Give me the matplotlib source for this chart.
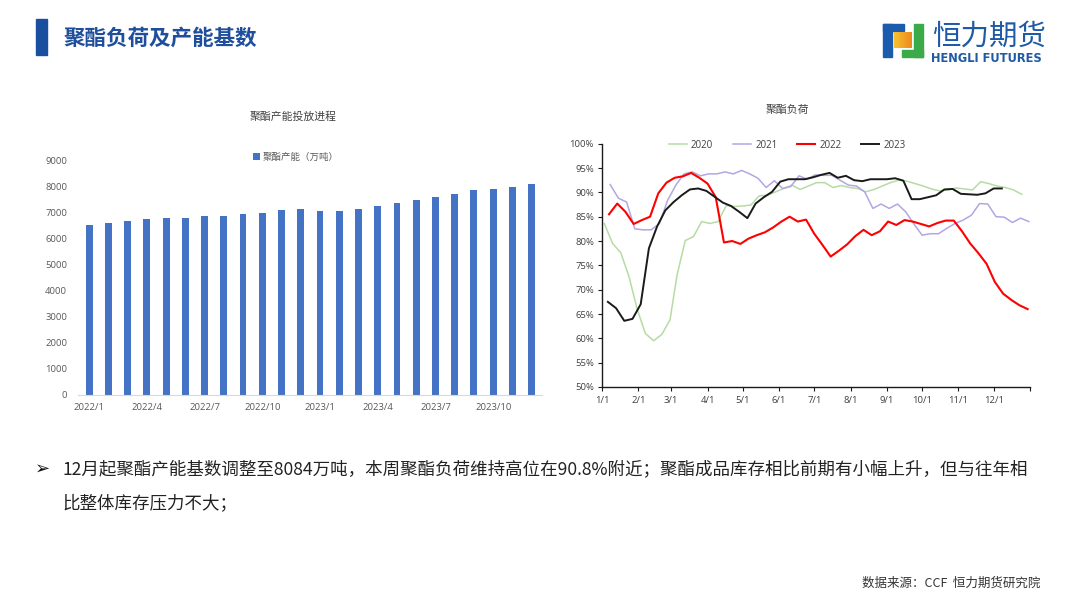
import matplotlib
matplotlib.use("Agg")
import matplotlib.pyplot as plt
from matplotlib.patches import Rectangle
import numpy as np
import pandas as pd

plt.rcParams['font.family'] = ['Open Sans', 'Noto Sans CJK SC', 'DejaVu Sans']

# ---- left chart: polyester capacity (10k tons), monthly
months = ['2022/1', '2022/2', '2022/3', '2022/4', '2022/5', '2022/6', '2022/7', '2022/8',
          '2022/9', '2022/10', '2022/11', '2022/12', '2023/1', '2023/2', '2023/3', '2023/4',
          '2023/5', '2023/6', '2023/7', '2023/8', '2023/9', '2023/10', '2023/11', '2023/12']
capacity = [6537, 6600, 6665, 6743, 6770, 6780, 6870, 6870, 6935, 6987, 7077, 7115,
            7050, 7050, 7115, 7245, 7350, 7475, 7580, 7695, 7860, 7915, 7965, 8084]

# ---- right chart: polyester operating rate (%), weekly (Friday)
start_2020 = '2020-01-03'
load_2020 = [83.6, 79.5, 77.6, 72.7, 66.0, 61.0, 59.5, 60.8, 63.8, 73.0, 80.1, 80.9, 84.0,
             83.6, 84.0, 87.3, 87.1, 87.2, 87.4, 89.3, 89.4, 90.1, 90.8, 91.5, 90.6, 91.3,
             92.0, 92.0, 91.0, 91.4, 91.0, 90.8, 90.1, 90.6, 91.3, 92.0, 92.5, 92.3, 91.8,
             91.3, 90.7, 90.3, 90.5, 90.9, 90.7, 90.5, 92.2, 91.8, 91.3, 91.0, 90.5, 89.6]
start_2021 = '2021-01-08'
load_2021 = [91.6, 88.8, 88.0, 82.5, 82.3, 82.3, 83.6, 88.4, 91.5, 93.8, 94.2, 93.4, 93.8,
             93.8, 94.2, 93.8, 94.5, 93.8, 92.9, 91.0, 92.4, 90.8, 91.2, 93.4, 92.7, 93.6,
             93.5, 93.5, 92.5, 91.5, 91.3, 90.1, 86.7, 87.6, 86.7, 87.6, 86.0, 83.5, 81.2,
             81.5, 81.5, 82.6, 83.6, 84.3, 85.3, 87.7, 87.6, 85.0, 84.9, 83.8, 84.7, 84.0]
start_2022 = '2022-01-07'
load_2022 = [85.5, 87.7, 86.0, 83.5, 84.3, 85.0, 89.8, 92.0, 93.0, 93.3, 94.0, 93.0, 91.8,
             89.0, 79.7, 80.0, 79.4, 80.5, 81.2, 81.8, 82.8, 84.0, 85.0, 84.0, 84.4, 81.5,
             79.2, 76.8, 78.0, 79.3, 81.0, 82.3, 81.2, 82.0, 84.0, 83.3, 84.3, 84.0, 83.5,
             83.0, 83.7, 84.2, 84.2, 82.0, 79.5, 77.5, 75.3, 71.6, 69.2, 67.9, 66.8, 66.0]
start_2023 = '2023-01-06'
load_2023 = [67.5, 66.2, 63.6, 64.0, 67.0, 78.5, 83.0, 86.3, 88.0, 89.4, 90.6, 90.8, 90.3,
             89.1, 87.9, 87.2, 86.0, 84.7, 87.7, 89.0, 90.1, 92.2, 92.7, 92.7, 92.7, 93.1,
             93.6, 94.0, 93.0, 93.4, 92.5, 92.3, 92.7, 92.7, 92.7, 92.9, 92.4, 88.6, 88.6,
             89.0, 89.4, 90.6, 90.7, 89.7, 89.6, 89.5, 89.8, 90.8, 90.8]

series = [('2020', start_2020, load_2020, '#B7DBA4', 1.1),
          ('2021', start_2021, load_2021, '#B3A6E3', 1.1),
          ('2022', start_2022, load_2022, '#FF0000', 1.5),
          ('2023', start_2023, load_2023, '#1A1A1A', 1.4)]


def day_of_year(start, n):
    # map weekly dates onto a common 2023 calendar
    dates = pd.date_range(start, periods=n, freq='7D')
    return np.array([(pd.Timestamp(2023, d.month, d.day) - pd.Timestamp(2023, 1, 1)).days
                     for d in dates])


fig = plt.figure(figsize=(10.8, 6.07), dpi=100)
fig.patch.set_facecolor('white')

# overlay in pixel coordinates for the slide decoration
ov = fig.add_axes([0, 0, 1, 1])
ov.set_xlim(0, 1080)
ov.set_ylim(607, 0)
ov.axis('off')

ov.add_patch(Rectangle((36, 19), 11, 36, color='#1A4FA0'))
ov.text(63, 38, '聚酯负荷及产能基数', fontsize=15.5, fontweight='bold', color='#1F4E9C',
        va='center', ha='left', family=['Noto Sans CJK SC'])

# logo
ov.add_patch(Rectangle((883, 24), 9, 33, color='#1B5BAE'))
ov.add_patch(Rectangle((883, 24), 21, 7, color='#1B5BAE'))
ov.add_patch(Rectangle((914, 24), 9, 33, color='#3BAA48'))
ov.add_patch(Rectangle((902, 50), 21, 7, color='#3BAA48'))
grad = np.linspace(0, 1, 20).reshape(1, -1)
ov.imshow(grad, extent=(894, 912, 48.5, 32.5),
          cmap=matplotlib.colors.LinearSegmentedColormap.from_list('o', ['#F6C02E', '#EE8A1C']),
          aspect='auto', zorder=2)
ov.text(932, 37, '恒力期货', fontsize=20.5, color='#1F5AA6', va='center', ha='left',
        family=['Noto Sans CJK SC'])
ov.text(931, 58, 'HENGLI FUTURES', fontsize=8.3, fontweight='bold', color='#1F5AA6',
        va='center', ha='left', family=['DejaVu Sans'])

# body text
ov.text(35, 469, '➢', fontsize=13, color='#111111', va='center', ha='left',
        family=['DejaVu Sans'])
ov.text(62, 469, '12月起聚酯产能基数调整至8084万吨，本周聚酯负荷维持高位在90.8%附近；聚酯成品库存相比前期有小幅上升，但与往年相',
        fontsize=12.6, color='#222222', va='center', ha='left',
        family=['Noto Sans CJK SC', 'DejaVu Sans'])
ov.text(62, 503, '比整体库存压力不大；', fontsize=12.6, color='#222222', va='center', ha='left',
        family=['Noto Sans CJK SC', 'DejaVu Sans'])
ov.text(1040, 583, '数据来源：CCF  恒力期货研究院', fontsize=9, fontweight='medium',
        color='#333333', va='center', ha='right', family=['Noto Sans CJK SC', 'DejaVu Sans'])

# ---- left: bar chart
ax1 = fig.add_axes([78.3 / 1080, 1 - 395 / 607, 463.4 / 1080, (395 - 160.3) / 607])
x = np.arange(len(months))
ax1.bar(x, capacity, width=0.36, color='#4472C4', label='聚酯产能（万吨）', zorder=2)
ax1.set_xlim(-0.56, len(months) - 0.48)
ax1.set_ylim(0, 9000)
ax1.set_yticks(range(0, 9001, 1000))
ax1.set_xticks(x[::3])
ax1.set_xticklabels(months[::3])
for s in ['top', 'right', 'left']:
    ax1.spines[s].set_visible(False)
ax1.spines['bottom'].set_color('#D9D9D9')
ax1.tick_params(axis='both', length=0, labelsize=6.8, colors='#595959')
ax1.tick_params(axis='y', pad=8)
ax1.tick_params(axis='x', pad=6)
ax1.legend(loc='center', bbox_to_anchor=(296 / 1080, 1 - 157 / 607),
           bbox_transform=fig.transFigure, frameon=False, fontsize=6.8,
           handlelength=0.7, handleheight=0.7, handletextpad=0.3, labelcolor='#595959')
fig.text(293 / 1080, 1 - 117 / 607, '聚酯产能投放进程', fontsize=7.8, color='#404040',
         ha='center', va='center')

# ---- right: line chart
ax2 = fig.add_axes([602 / 1080, 1 - 387 / 607, 428 / 1080, (387 - 143.7) / 607])
for name, start, vals, col, lw in series:
    ax2.plot(day_of_year(start, len(vals)), np.array(vals) / 100, color=col, lw=lw, label=name)
ax2.set_xlim(0, 365)
ax2.set_ylim(0.5, 1.0)
ax2.set_yticks(np.arange(0.5, 1.001, 0.05))
ax2.set_yticklabels([f'{int(round(v * 100))}%' for v in np.arange(0.5, 1.001, 0.05)])
month_starts = [(pd.Timestamp(2023, m, 1) - pd.Timestamp(2023, 1, 1)).days for m in range(1, 13)]
ax2.set_xticks(month_starts + [365])
ax2.set_xticklabels([f'{m}/1' for m in range(1, 13)] + [''])
for s in ['top', 'right']:
    ax2.spines[s].set_visible(False)
for s in ['left', 'bottom']:
    ax2.spines[s].set_color('#1A1A1A')
    ax2.spines[s].set_linewidth(1.0)
ax2.tick_params(axis='both', direction='out', length=2.8, width=0.8, labelsize=6.8,
                colors='#1A1A1A', labelcolor='#404040')
ax2.tick_params(axis='y', pad=3)
ax2.tick_params(axis='x', pad=3.5)
ax2.legend(loc='center', bbox_to_anchor=(787 / 1080, 1 - 145 / 607),
           bbox_transform=fig.transFigure, frameon=False, ncol=4, fontsize=7,
           handlelength=1.9, handletextpad=0.4, columnspacing=2.0, labelcolor='#404040')
fig.text(787 / 1080, 1 - 110 / 607, '聚酯负荷', fontsize=7.8, color='#404040',
         ha='center', va='center')

fig.savefig('out.png', dpi=100)
